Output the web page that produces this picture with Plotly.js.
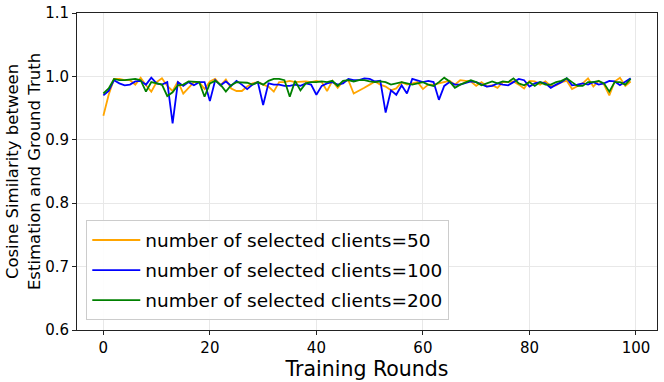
<!DOCTYPE html>
<html>
<head>
<meta charset="utf-8">
<script src="https://cdn.plot.ly/plotly-3.0.1.min.js"></script>
<style>
  body { margin: 0; background: #fff; }
  #chart { width: 664px; height: 382px; }
</style>
</head>
<body>
<div id="chart"></div>
<script>
// Cosine similarity per training round, one series per client count
const rounds = Array.from({length: 100}, (_, i) => i);

const clients50 = [
  0.938, 0.971, 0.996, 0.996, 0.994, 0.994, 0.987, 0.998, 0.986, 0.976,
  0.991, 0.997, 0.985, 0.977, 0.992, 0.973, 0.982, 0.991, 0.991, 0.980,
  0.992, 0.996, 0.986, 0.995, 0.981, 0.977, 0.977, 0.984, 0.989, 0.991,
  0.987, 0.984, 0.976, 0.991, 0.991, 0.993, 0.991, 0.992, 0.992, 0.991,
  0.993, 0.991, 0.977, 0.993, 0.982, 0.992, 0.994, 0.973, 0.977, 0.982,
  0.987, 0.992, 0.987, 0.984, 0.978, 0.981, 0.991, 0.987, 0.989, 0.991,
  0.980, 0.987, 0.987, 0.989, 0.992, 0.993, 0.987, 0.994, 0.993, 0.992,
  0.985, 0.991, 0.984, 0.986, 0.982, 0.991, 0.991, 0.992, 0.987, 0.981,
  0.993, 0.992, 0.987, 0.992, 0.985, 0.986, 0.991, 0.993, 0.980, 0.984,
  0.989, 0.997, 0.984, 0.993, 0.987, 0.970, 0.992, 0.998, 0.985, 0.992
];

const clients100 = [
  0.970, 0.977, 0.994, 0.989, 0.986, 0.987, 0.992, 0.993, 0.987, 0.998,
  0.989, 0.987, 0.991, 0.926, 0.991, 0.985, 0.991, 0.986, 0.991, 0.991,
  0.961, 0.994, 0.986, 0.992, 0.985, 0.993, 0.987, 0.980, 0.987, 0.991,
  0.955, 0.989, 0.987, 0.987, 0.985, 0.985, 0.987, 0.985, 0.989, 0.987,
  0.971, 0.985, 0.989, 0.991, 0.987, 0.989, 0.996, 0.994, 0.994, 0.997,
  0.996, 0.992, 0.993, 0.943, 0.978, 0.971, 0.986, 0.973, 0.996, 0.994,
  0.991, 0.993, 0.991, 0.963, 0.985, 0.991, 0.987, 0.987, 0.989, 0.992,
  0.991, 0.987, 0.984, 0.985, 0.989, 0.987, 0.986, 0.991, 0.996, 0.994,
  0.984, 0.989, 0.991, 0.989, 0.982, 0.987, 0.991, 0.997, 0.986, 0.987,
  0.989, 0.987, 0.991, 0.987, 0.989, 0.993, 0.992, 0.986, 0.991, 0.997
];

const clients200 = [
  0.973, 0.981, 0.996, 0.994, 0.994, 0.995, 0.996, 0.994, 0.976, 0.991,
  0.989, 0.987, 0.969, 0.975, 0.986, 0.987, 0.992, 0.992, 0.991, 0.968,
  0.989, 0.993, 0.987, 0.976, 0.986, 0.991, 0.991, 0.990, 0.987, 0.991,
  0.987, 0.993, 0.996, 0.996, 0.994, 0.968, 0.993, 0.978, 0.989, 0.991,
  0.991, 0.992, 0.991, 0.993, 0.985, 0.993, 0.994, 0.992, 0.994, 0.994,
  0.992, 0.991, 0.992, 0.991, 0.987, 0.989, 0.991, 0.989, 0.987, 0.989,
  0.991, 0.987, 0.985, 0.991, 0.998, 0.992, 0.982, 0.987, 0.991, 0.994,
  0.991, 0.986, 0.989, 0.992, 0.989, 0.992, 0.991, 0.997, 0.989, 0.986,
  0.991, 0.985, 0.991, 0.987, 0.987, 0.991, 0.993, 0.997, 0.991, 0.985,
  0.985, 0.991, 0.991, 0.993, 0.989, 0.976, 0.991, 0.991, 0.987, 0.996
];

const seriesNames = [
  'number of selected clients=50',
  'number of selected clients=100',
  'number of selected clients=200'
];
const seriesColors = ['#FFA500', '#0000FF', '#008000'];
const xTicks = [0, 20, 40, 60, 80, 100];
const yTicks = [0.6, 0.7, 0.8, 0.9, 1.0, 1.1];

const data = [clients50, clients100, clients200].map((ys, i) => ({
    x: rounds,
    y: ys,
    type: 'scatter',
    mode: 'lines',
    name: seriesNames[i],
    legendgroup: 'g' + i,
    line: { color: seriesColors[i], width: 1.8 }
}));

const axisCommon = {
    showline: true,
    mirror: true,
    linecolor: '#222',
    linewidth: 1,
    ticks: 'outside',
    ticklen: 4,
    tickcolor: '#222',
    showgrid: true,
    gridcolor: '#e8e8e8',
    zeroline: false,
    tickfont: { size: 15, color: '#000' }
};

const layout = {
    width: 664,
    height: 382,
    margin: { l: 77, r: 7, t: 13, b: 52 },
    paper_bgcolor: '#fff',
    plot_bgcolor: '#fff',
    font: { family: 'DejaVu Sans, sans-serif', color: '#000' },
    xaxis: Object.assign({}, axisCommon, {
        range: [-4.95, 103.95],
        tickvals: xTicks,
        ticktext: xTicks.map(String),
        title: { text: 'Training Rounds', font: { size: 20.5 }, standoff: 2 }
    }),
    yaxis: Object.assign({}, axisCommon, {
        range: [0.6, 1.1],
        tickvals: yTicks,
        ticktext: yTicks.map(v => v.toFixed(1)),
        title: { text: 'Cosine Similarity between<br>Estimation and Ground Truth', font: { size: 16.5 }, standoff: 0 }
    }),
    legend: {
        x: 0.016, y: 0.03,
        xanchor: 'left', yanchor: 'bottom',
        bgcolor: 'rgba(255,255,255,0.9)',
        bordercolor: '#cccccc',
        borderwidth: 1,
        font: { size: 18.5 },
        itemwidth: 48,
        traceorder: 'grouped',
        tracegroupgap: 3
    },
    showlegend: true
};

Plotly.newPlot('chart', data, layout, {displayModeBar: false, staticPlot: true});
</script>
</body>
</html>
